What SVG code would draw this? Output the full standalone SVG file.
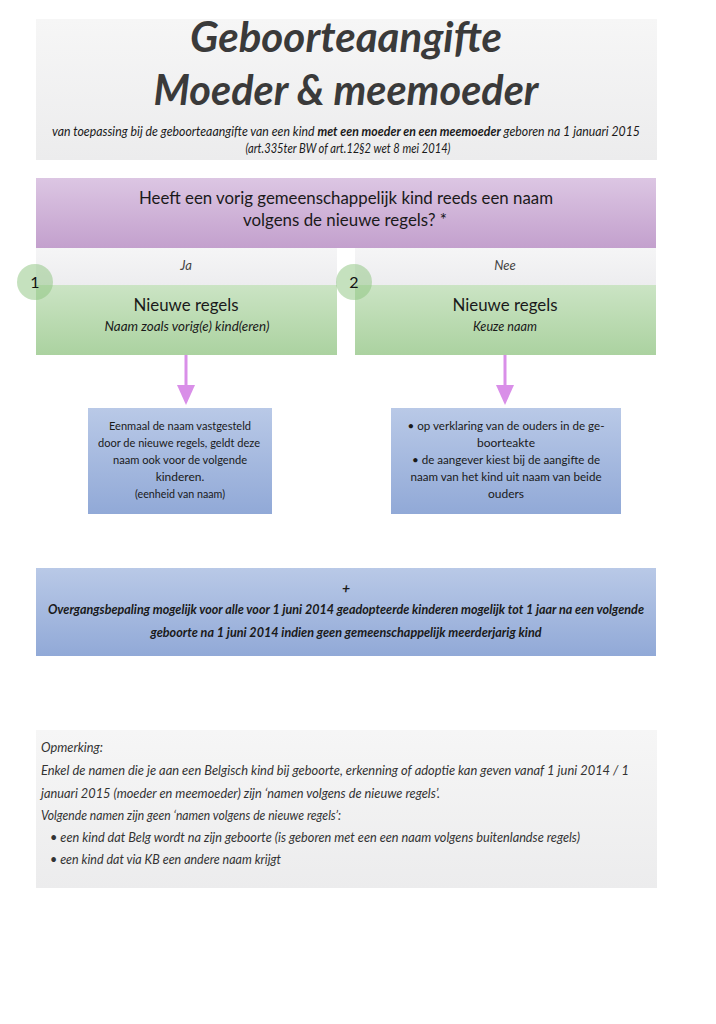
<svg xmlns="http://www.w3.org/2000/svg" width="716" height="1024" viewBox="0 0 716 1024">
<defs>
<linearGradient id="gGray" x1="0" y1="0" x2="0" y2="1"><stop offset="0" stop-color="#f6f6f6"/><stop offset="1" stop-color="#ececed"/></linearGradient>
<linearGradient id="gPurple" x1="0" y1="0" x2="0" y2="1"><stop offset="0" stop-color="#dcc6e3"/><stop offset="1" stop-color="#c3a0cd"/></linearGradient>
<linearGradient id="gBand" x1="0" y1="0" x2="0" y2="1"><stop offset="0" stop-color="#f5f5f6"/><stop offset="1" stop-color="#ededef"/></linearGradient>
<linearGradient id="gGreen" x1="0" y1="0" x2="0" y2="1"><stop offset="0" stop-color="#cbe4c4"/><stop offset="1" stop-color="#abd2a0"/></linearGradient>
<linearGradient id="gBlue" x1="0" y1="0" x2="0" y2="1"><stop offset="0" stop-color="#b9c9e7"/><stop offset="1" stop-color="#91a9d7"/></linearGradient>
</defs>
<style>
text{font-family:Lato,"Open Sans","Liberation Sans",sans-serif;fill:#1a1a1a}
.ttl{font-size:42px;font-weight:bold;font-style:italic;fill:#3a3a3a;text-anchor:middle}
.sub{font-size:12.5px;font-style:italic;text-anchor:middle}
.q{font-size:16.5px;text-anchor:middle}
.lbl{font-size:13px;font-style:italic;fill:#444;text-anchor:middle}
.h{font-size:16.5px;text-anchor:middle}
.hs{font-size:13.5px;font-style:italic;text-anchor:middle}
.b{font-size:12px;text-anchor:middle}
.bb{font-size:14px;font-style:italic;font-weight:bold;text-anchor:middle}
.r{font-size:14px;font-style:italic;fill:#333}
.num{font-size:16px;fill:#111;text-anchor:middle}
.conn{stroke:#d98fe8;stroke-width:3;fill:none}
.head{fill:#d98fe8}
</style>

<g id="title">
<rect x="36" y="19" width="621" height="141" fill="url(#gGray)"/>
<text class="ttl" x="346" y="52" textLength="312" lengthAdjust="spacingAndGlyphs">Geboorteaangifte</text>
<text class="ttl" x="346" y="105" textLength="385" lengthAdjust="spacingAndGlyphs">Moeder &amp; meemoeder</text>
<text class="sub" x="346" y="136" textLength="588" lengthAdjust="spacingAndGlyphs">van toepassing bij de geboorteaangifte van een kind <tspan font-weight="bold">met een moeder en een meemoeder</tspan> geboren na 1 januari 2015</text>
<text class="sub" x="348" y="153" textLength="205" lengthAdjust="spacingAndGlyphs">(art.335ter BW of art.12§2 wet 8 mei 2014)</text>
</g>

<g id="question">
<rect x="36" y="178" width="620" height="70" fill="url(#gPurple)"/>
<text class="q" x="346" y="204" textLength="414" lengthAdjust="spacingAndGlyphs">Heeft een vorig gemeenschappelijk kind reeds een naam</text>
<text class="q" x="345" y="226" textLength="204" lengthAdjust="spacingAndGlyphs">volgens de nieuwe regels? *</text>
</g>

<g id="option1">
<rect x="36" y="248" width="301" height="37" fill="url(#gBand)"/>
<text class="lbl" x="186" y="270">Ja</text>
<rect x="36" y="285" width="301" height="70" fill="url(#gGreen)"/>
<text class="h" x="186" y="311" textLength="105" lengthAdjust="spacingAndGlyphs">Nieuwe regels</text>
<text class="hs" x="187" y="331" textLength="165" lengthAdjust="spacingAndGlyphs">Naam zoals vorig(e) kind(eren)</text>
<circle cx="35" cy="282" r="18" fill="#8cc47d" fill-opacity="0.5"/>
<text class="num" x="35" y="288">1</text>
</g>

<g id="option2">
<rect x="355" y="248" width="301" height="37" fill="url(#gBand)"/>
<text class="lbl" x="505" y="270">Nee</text>
<rect x="355" y="285" width="301" height="70" fill="url(#gGreen)"/>
<text class="h" x="505" y="311" textLength="105" lengthAdjust="spacingAndGlyphs">Nieuwe regels</text>
<text class="hs" x="505" y="331" textLength="64" lengthAdjust="spacingAndGlyphs">Keuze naam</text>
<circle cx="354" cy="282" r="18" fill="#8cc47d" fill-opacity="0.5"/>
<text class="num" x="354" y="288">2</text>
</g>

<g id="result1">
<rect x="88" y="408" width="184" height="106" fill="url(#gBlue)"/>
<text class="b" x="180" y="430" textLength="142" lengthAdjust="spacingAndGlyphs">Eenmaal de naam vastgesteld</text>
<text class="b" x="179" y="447" textLength="162" lengthAdjust="spacingAndGlyphs">door de nieuwe regels, geldt deze</text>
<text class="b" x="180" y="464" textLength="134" lengthAdjust="spacingAndGlyphs">naam ook voor de volgende</text>
<text class="b" x="180" y="481">kinderen.</text>
<text class="b" x="180" y="498" textLength="90" lengthAdjust="spacingAndGlyphs">(eenheid van naam)</text>
</g>

<g id="result2">
<rect x="391" y="408" width="230" height="106" fill="url(#gBlue)"/>
<text class="b" x="506" y="430" textLength="197" lengthAdjust="spacingAndGlyphs">• op verklaring van de ouders in de ge-</text>
<text class="b" x="506" y="447">boorteakte</text>
<text class="b" x="506" y="464" textLength="188" lengthAdjust="spacingAndGlyphs">• de aangever kiest bij de aangifte de</text>
<text class="b" x="506" y="481" textLength="191" lengthAdjust="spacingAndGlyphs">naam van het kind uit naam van beide</text>
<text class="b" x="506" y="498">ouders</text>
</g>

<g id="transition">
<rect x="36" y="568" width="620" height="88" fill="url(#gBlue)"/>
<text class="bb" x="346" y="593" font-style="normal" font-weight="normal" font-size="15">+</text>
<text class="bb" x="346" y="614" textLength="596" lengthAdjust="spacingAndGlyphs">Overgangsbepaling mogelijk  voor alle voor 1 juni 2014 geadopteerde kinderen mogelijk tot 1 jaar na een volgende</text>
<text class="bb" x="346" y="637" textLength="391" lengthAdjust="spacingAndGlyphs">geboorte na 1 juni 2014  indien geen gemeenschappelijk meerderjarig kind</text>
</g>

<g id="remark">
<rect x="36" y="730" width="621" height="158" fill="url(#gGray)"/>
<text class="r" x="41" y="752" textLength="62" lengthAdjust="spacingAndGlyphs">Opmerking:</text>
<text class="r" x="41" y="775" font-size="13" textLength="588" lengthAdjust="spacingAndGlyphs">Enkel de namen die je aan een Belgisch kind bij geboorte, erkenning of adoptie kan geven vanaf 1 juni 2014 / 1</text>
<text class="r" x="41" y="798" textLength="399" lengthAdjust="spacingAndGlyphs">januari 2015 (moeder en meemoeder) zijn ‘namen volgens de nieuwe regels’.</text>
<text class="r" x="41" y="820" textLength="300" lengthAdjust="spacingAndGlyphs">Volgende namen zijn geen ‘namen volgens de nieuwe regels’:</text>
<text class="r" x="50" y="842" textLength="530" lengthAdjust="spacingAndGlyphs">• een kind dat Belg wordt na zijn geboorte (is geboren met een een naam volgens buitenlandse regels)</text>
<text class="r" x="50" y="864" textLength="231" lengthAdjust="spacingAndGlyphs">• een kind dat via KB een andere naam krijgt</text>
</g>

<g id="connectors">
<line class="conn" x1="186" y1="355" x2="186" y2="388"/>
<polygon class="head" points="177,385 195,385 186,405"/>
<line class="conn" x1="505" y1="355" x2="505" y2="388"/>
<polygon class="head" points="496,385 514,385 505,405"/>
</g>
</svg>
